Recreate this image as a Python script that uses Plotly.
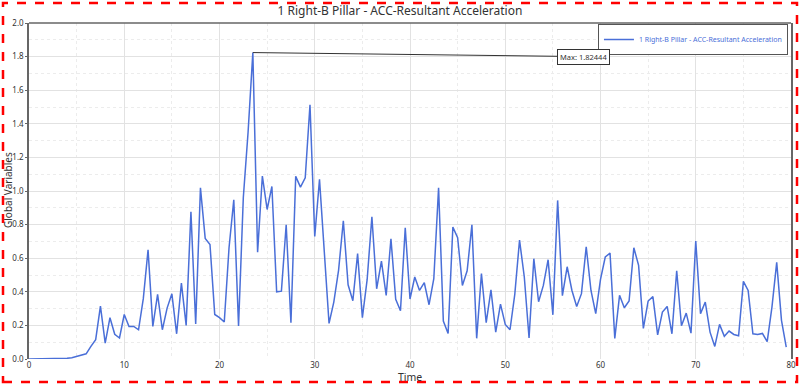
import plotly.graph_objects as go

# ---- data ----
time = [i * 0.5 for i in range(160)]
accel = [
    0.0, 0.0, 0.0, 0.0, 0.0, 0.0, 0.001, 0.002, 0.004, 0.008,   # 0-4.5
    0.015, 0.023, 0.031, 0.075, 0.115, 0.315, 0.095, 0.246, 0.147, 0.125,  # 5-9.5
    0.265, 0.194, 0.194, 0.174, 0.359, 0.650, 0.194, 0.385, 0.174, 0.303,  # 10-14.5
    0.388, 0.150, 0.452, 0.200, 0.877, 0.208, 1.019, 0.718, 0.682, 0.265,  # 15-19.5
    0.246, 0.220, 0.662, 0.948, 0.196, 0.960, 1.350, 1.824, 0.635, 1.089,  # 20-24.5
    0.890, 1.027, 0.400, 0.404, 0.799, 0.216, 1.087, 1.023, 1.079, 1.513,  # 25-29.5
    0.730, 1.069, 0.607, 0.212, 0.339, 0.528, 0.823, 0.442, 0.347, 0.627,  # 30-34.5
    0.246, 0.472, 0.847, 0.418, 0.583, 0.379, 0.716, 0.355, 0.287, 0.781,  # 35-39.5
    0.357, 0.488, 0.408, 0.454, 0.323, 0.478, 1.019, 0.226, 0.152, 0.785,  # 40-44.5
    0.722, 0.438, 0.525, 0.799, 0.123, 0.508, 0.216, 0.412, 0.160, 0.327,  # 45-49.5
    0.206, 0.174, 0.385, 0.708, 0.488, 0.125, 0.597, 0.341, 0.438, 0.591,  # 50-54.5
    0.263, 0.944, 0.377, 0.549, 0.408, 0.313, 0.389, 0.668, 0.408, 0.270,  # 55-59.5
    0.474, 0.607, 0.630, 0.123, 0.379, 0.305, 0.345, 0.662, 0.557, 0.182,  # 60-64.5
    0.345, 0.371, 0.144, 0.279, 0.313, 0.150, 0.525, 0.198, 0.273, 0.154,  # 65-69.5
    0.702, 0.270, 0.339, 0.160, 0.075, 0.206, 0.135, 0.166, 0.146, 0.138,  # 70-74.5
    0.462, 0.408, 0.150, 0.146, 0.152, 0.103, 0.309, 0.575, 0.230, 0.071,  # 75-79.5
]
x_ticks = [0, 10, 20, 30, 40, 50, 60, 70, 80]
y_ticks = [0.0, 0.2, 0.4, 0.6, 0.8, 1.0, 1.2, 1.4, 1.6, 1.8, 2.0]
series_name = "1 Right-B Pillar - ACC-Resultant Acceleration"
title_text = "1 Right-B Pillar - ACC-Resultant Acceleration"
max_label = "Max: 1.82444"
x_title = "Time"
y_title = "Global Variables"

imax = max(range(len(accel)), key=lambda i: accel[i])

fig = go.Figure()
fig.add_trace(go.Scatter(
    x=time, y=accel, mode="lines", name=series_name,
    line=dict(color="#4a6fd8", width=1.5),
))

W, H = 800, 385
L, R, T, B = 29, 9, 23, 26
pw, ph = W - L - R, H - T - B

def px2paper(px, py):
    return (px - L) / pw, (H - B - py) / ph

x0, y1 = px2paper(3, 3)
x1, y0 = px2paper(797, 382)
xt_x, xt_y = px2paper(410, 377)
yt_x, yt_y = px2paper(8, 190)

fig.update_layout(
    width=W, height=H,
    margin=dict(l=L, r=R, t=T, b=B, autoexpand=False),
    paper_bgcolor="white", plot_bgcolor="white",
    font=dict(family="Noto Sans, Open Sans, sans-serif", size=9, color="#333"),
    title=dict(text=title_text, x=0.5, xanchor="center", y=1 - 11 / H, yanchor="middle",
               font=dict(size=12, color="#333")),
    showlegend=True,
    legend=dict(x=0.996, y=0.997, xanchor="right", yanchor="top",
                bgcolor="white", bordercolor="#555", borderwidth=1,
                font=dict(size=7, color="#4a6fd8"), itemwidth=30,
                tracegroupgap=0),
    xaxis=dict(range=[0, 80], tickvals=x_ticks, ticktext=[str(v) for v in x_ticks],
               showgrid=True, gridcolor="#e2e2e2", gridwidth=1,
               minor=dict(dtick=5, showgrid=True, gridcolor="#ececec", griddash="dot"),
               zeroline=False, showline=False, ticks="", ticklen=0,
               automargin=False, tickfont=dict(size=8)),
    yaxis=dict(range=[0, 2.0], tickvals=y_ticks, ticktext=[f"{v:.1f}" for v in y_ticks],
               showgrid=True, gridcolor="#e2e2e2", gridwidth=1,
               minor=dict(dtick=0.1, showgrid=True, gridcolor="#ececec", griddash="dot"),
               zeroline=False, showline=True, linecolor="#666", linewidth=1.5, mirror=True,
               ticks="outside", ticklen=2, tickcolor="#666",
               automargin=False, tickfont=dict(size=8)),
    shapes=[
        dict(type="line", xref="paper", yref="paper", x0=0, x1=1, y0=1, y1=1,
             line=dict(color="#666", width=1.5)),
        dict(type="rect", xref="paper", yref="paper", x0=x0, x1=x1, y0=y0, y1=y1,
             line=dict(color="red", width=2.5, dash="dash"), layer="above"),
    ],
    annotations=[
        dict(x=time[imax], y=accel[imax], xref="x", yref="y",
             ax=58.2, ay=1.80, axref="x", ayref="y",
             text=max_label, showarrow=True, arrowhead=0, arrowwidth=1, arrowcolor="#333",
             bgcolor="white", bordercolor="#333", borderwidth=1, borderpad=2,
             font=dict(size=7.5, color="#333")),
        dict(x=xt_x, y=xt_y, xref="paper", yref="paper", text=x_title, showarrow=False,
             xanchor="center", yanchor="middle", font=dict(size=10.5, color="#333")),
        dict(x=yt_x, y=yt_y, xref="paper", yref="paper", text=y_title, showarrow=False,
             textangle=-90, xanchor="center", yanchor="middle", font=dict(size=10, color="#333")),
    ],
)

fig.write_html("out.html", config={"displayModeBar": False},
               post_script="document.body.style.margin='0';")
